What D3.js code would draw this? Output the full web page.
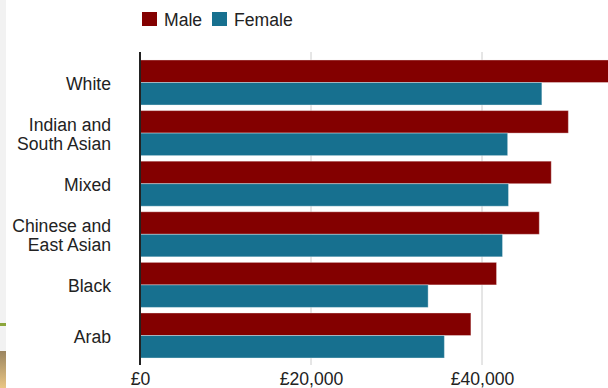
<!DOCTYPE html>
<html>
<head>
<meta charset="utf-8">
<script src="https://cdn.jsdelivr.net/npm/d3@7"></script>
<style>
  html, body { margin: 0; padding: 0; background: #fff; }
  svg { display: block; font-family: "Liberation Sans", Arial, Helvetica, sans-serif; }
</style>
</head>
<body>
<svg id="chart" width="608" height="388"></svg>
<script>
// Median annual pay by ethnic group and sex
const categories = [
  ["White"],
  ["Indian and", "South Asian"],
  ["Mixed"],
  ["Chinese and", "East Asian"],
  ["Black"],
  ["Arab"]
];
const series = ["Male", "Female"];
const maleValues   = [56000, 50100, 48100, 46700, 41700, 38700];
const femaleValues = [47000, 43000, 43100, 42400, 33700, 35600];
const tickValues = [0, 20000, 40000];

const colors = { Male: "#830000", Female: "#17708f" };
const fontSize = 17.6;

const svg = d3.select("#chart");
const W = 608, H = 388;

// thin strip of page background showing at the left edge
const defs = svg.append("defs");
const grad = defs.append("linearGradient").attr("id", "edgeGrad")
  .attr("x1", 0).attr("y1", 0).attr("x2", 0).attr("y2", 1);
grad.append("stop").attr("offset", "0%").attr("stop-color", "#9a8560");
grad.append("stop").attr("offset", "100%").attr("stop-color", "#eac684");
svg.append("rect").attr("x", 0).attr("y", 0).attr("width", 6).attr("height", H).attr("fill", "#f2f2f2");
svg.append("rect").attr("x", 0).attr("y", 323).attr("width", 6).attr("height", 3).attr("fill", "#8ca63c");
svg.append("rect").attr("x", 0).attr("y", 351).attr("width", 6).attr("height", H - 351).attr("fill", "url(#edgeGrad)");

const keys = categories.map(c => c.join(" "));
const rows = keys.map((k, i) => ({ key: k, lines: categories[i], Male: maleValues[i], Female: femaleValues[i] }));

const x = d3.scaleLinear().domain([0, 60000]).range([140, 653]);
const y = d3.scaleBand().domain(keys).range([57.2, 360.8]).paddingInner(0.11).paddingOuter(0.055);
const ySub = d3.scaleBand().domain(series).range([0, y.bandwidth()]);

const plotTop = 52, plotBottom = 365;

// vertical gridlines
svg.append("g").selectAll("line")
  .data(tickValues.filter(v => v > 0))
  .join("line")
  .attr("x1", d => x(d)).attr("x2", d => x(d))
  .attr("y1", plotTop).attr("y2", plotBottom)
  .attr("stroke", "#cccccc").attr("stroke-width", 1);

// bars
const groups = svg.append("g").selectAll("g")
  .data(rows)
  .join("g")
  .attr("transform", d => `translate(0,${y(d.key)})`);

groups.selectAll("rect")
  .data(d => series.map(s => ({ s, v: d[s] })))
  .join("rect")
  .attr("x", x(0))
  .attr("y", d => ySub(d.s))
  .attr("width", d => x(d.v) - x(0))
  .attr("height", ySub.bandwidth())
  .attr("fill", d => colors[d.s])
  .attr("stroke", "rgba(255,255,255,0.35)")
  .attr("stroke-width", 1);

// zero axis line
svg.append("line")
  .attr("x1", x(0)).attr("x2", x(0))
  .attr("y1", plotTop).attr("y2", plotBottom)
  .attr("stroke", "#222").attr("stroke-width", 2);

// category labels
const labels = svg.append("g").selectAll("text")
  .data(rows)
  .join("text")
  .attr("text-anchor", "end")
  .attr("font-size", fontSize)
  .attr("fill", "#222");

labels.each(function(d) {
  const c = y(d.key) + y.bandwidth() / 2;
  const t = d3.select(this);
  if (d.lines.length === 1) {
    t.append("tspan").attr("x", 111).attr("y", c + 7).text(d.lines[0]);
  } else {
    t.append("tspan").attr("x", 111).attr("y", c - 2.3).text(d.lines[0]);
    t.append("tspan").attr("x", 111).attr("y", c + 16.8).text(d.lines[1]);
  }
});

// x axis tick labels
const axis = d3.axisBottom(x)
  .tickValues(tickValues)
  .tickSize(0)
  .tickPadding(8)
  .tickFormat(d => "£" + d3.format(",")(d));

const gx = svg.append("g")
  .attr("transform", `translate(0,${plotBottom})`)
  .call(axis);
gx.select(".domain").remove();
gx.selectAll("text")
  .attr("font-size", fontSize)
  .attr("font-family", "Liberation Sans, Arial, Helvetica, sans-serif")
  .attr("fill", "#222");

// legend
const legend = svg.append("g");
const legendItems = [
  { s: "Male", rx: 142, tx: 164 },
  { s: "Female", rx: 212, tx: 234 }
];
legendItems.forEach(it => {
  legend.append("rect")
    .attr("x", it.rx).attr("y", 12)
    .attr("width", 15).attr("height", 14)
    .attr("fill", colors[it.s]);
  legend.append("text")
    .attr("x", it.tx).attr("y", 26)
    .attr("font-size", fontSize)
    .attr("fill", "#222")
    .text(it.s);
});
</script>
</body>
</html>
